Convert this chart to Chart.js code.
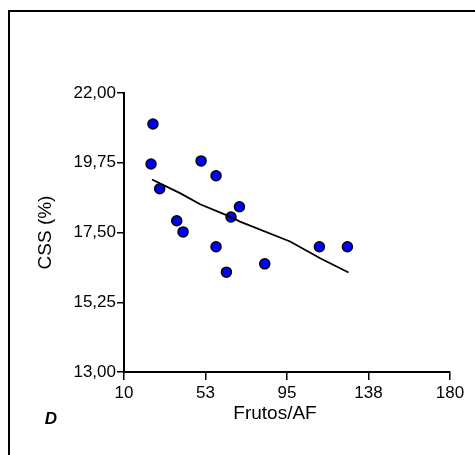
<!DOCTYPE html>
<html>
<head>
<meta charset="utf-8">
<script src="https://cdn.jsdelivr.net/npm/chart.js@4/dist/chart.umd.min.js"></script>
<style>
html,body{margin:0;padding:0;background:#fff;}
#wrap{width:475px;height:455px;position:relative;}
</style>
</head>
<body>
<div id="wrap"><canvas id="c" width="475" height="455"></canvas></div>
<script>
// Data
const frutosAF = [25.1, 24.1, 28.6, 37.5, 40.8, 50.2, 58.0, 58.0, 63.4, 65.8, 70.2, 83.4, 111.9, 126.5];
const cssPct   = [21.0, 19.71, 18.91, 17.88, 17.52, 19.81, 19.33, 17.04, 16.22, 18.0, 18.33, 16.49, 17.04, 17.04];
const fitX = [24.6, 39.2, 49.7, 65.3, 70.5, 96.6, 112.3, 127.1];
const fitY = [19.21, 18.77, 18.41, 18.01, 17.85, 17.21, 16.67, 16.21];
const xTicks = [10, 52.5, 95, 137.5, 180];
const xTickLabels = ['10', '53', '95', '138', '180'];
const yTicks = [13, 15.25, 17.5, 19.75, 22];
const yTickLabels = ['13,00', '15,25', '17,50', '19,75', '22,00'];
const xTitle = 'Frutos/AF';
const yTitle = 'CSS (%)';
const panelLabel = 'D';

const FONT = "Arial, 'Liberation Sans', sans-serif";

const decor = {
  id: 'decor',
  beforeDraw(chart) {
    const ctx = chart.ctx;
    ctx.save();
    ctx.fillStyle = '#fff';
    ctx.fillRect(0, 0, chart.width, chart.height);
    ctx.strokeStyle = '#000';
    ctx.lineWidth = 2;
    ctx.strokeRect(9, 11, 480, 460);
    ctx.restore();
  },
  afterDraw(chart) {
    const ctx = chart.ctx;
    const a = chart.chartArea;
    ctx.save();
    ctx.fillStyle = '#000';
    ctx.font = '19px ' + FONT;
    ctx.textAlign = 'center';
    ctx.textBaseline = 'middle';
    ctx.fillText(xTitle, 275, 414);
    ctx.translate(46, (a.top + a.bottom) / 2);
    ctx.rotate(-Math.PI / 2);
    ctx.fillText(yTitle, 0, 0);
    ctx.restore();
    ctx.save();
    ctx.fillStyle = '#000';
    ctx.font = 'italic bold 17px ' + FONT;
    ctx.textAlign = 'center';
    ctx.textBaseline = 'middle';
    ctx.fillText(panelLabel, 51, 419);
    ctx.restore();
  }
};

new Chart(document.getElementById('c'), {
  type: 'scatter',
  data: {
    datasets: [
      {
        type: 'line',
        data: fitX.map((x, i) => ({x: x, y: fitY[i]})),
        borderColor: '#000',
        borderWidth: 1.8,
        pointRadius: 0,
        fill: false,
        tension: 0,
        order: 0
      },
      {
        data: frutosAF.map((x, i) => ({x: x, y: cssPct[i]})),
        backgroundColor: '#0000ff',
        borderColor: '#000',
        borderWidth: 1.5,
        pointRadius: 5,
        order: 1
      }
    ]
  },
  options: {
    responsive: false,
    animation: false,
    events: [],
    layout: {padding: {left: 0, top: 93, right: 25, bottom: 0}},
    plugins: {legend: {display: false}, tooltip: {enabled: false}, title: {display: false}},
    scales: {
      x: {
        type: 'linear',
        min: 10, max: 180,
        afterBuildTicks: s => { s.ticks = xTicks.map(v => ({value: v})); },
        afterFit: s => { s.height = 83; },
        ticks: {
          color: '#000',
          font: {family: FONT, size: 17},
          padding: 3,
          maxRotation: 0,
          autoSkip: false,
          callback: (v) => xTickLabels[xTicks.indexOf(v)]
        },
        grid: {drawOnChartArea: false, drawTicks: true, tickLength: 8, color: '#000', lineWidth: 1.5},
        border: {display: true, color: '#000', width: 2}
      },
      y: {
        type: 'linear',
        min: 13, max: 22,
        afterBuildTicks: s => { s.ticks = yTicks.map(v => ({value: v})); },
        afterFit: s => { s.width = 124; },
        ticks: {
          color: '#000',
          font: {family: FONT, size: 17},
          padding: 1,
          autoSkip: false,
          callback: (v) => yTickLabels[yTicks.indexOf(v)]
        },
        grid: {drawOnChartArea: false, drawTicks: true, tickLength: 7, color: '#000', lineWidth: 1.5},
        border: {display: true, color: '#000', width: 2}
      }
    }
  },
  plugins: [decor]
});
</script>
</body>
</html>
